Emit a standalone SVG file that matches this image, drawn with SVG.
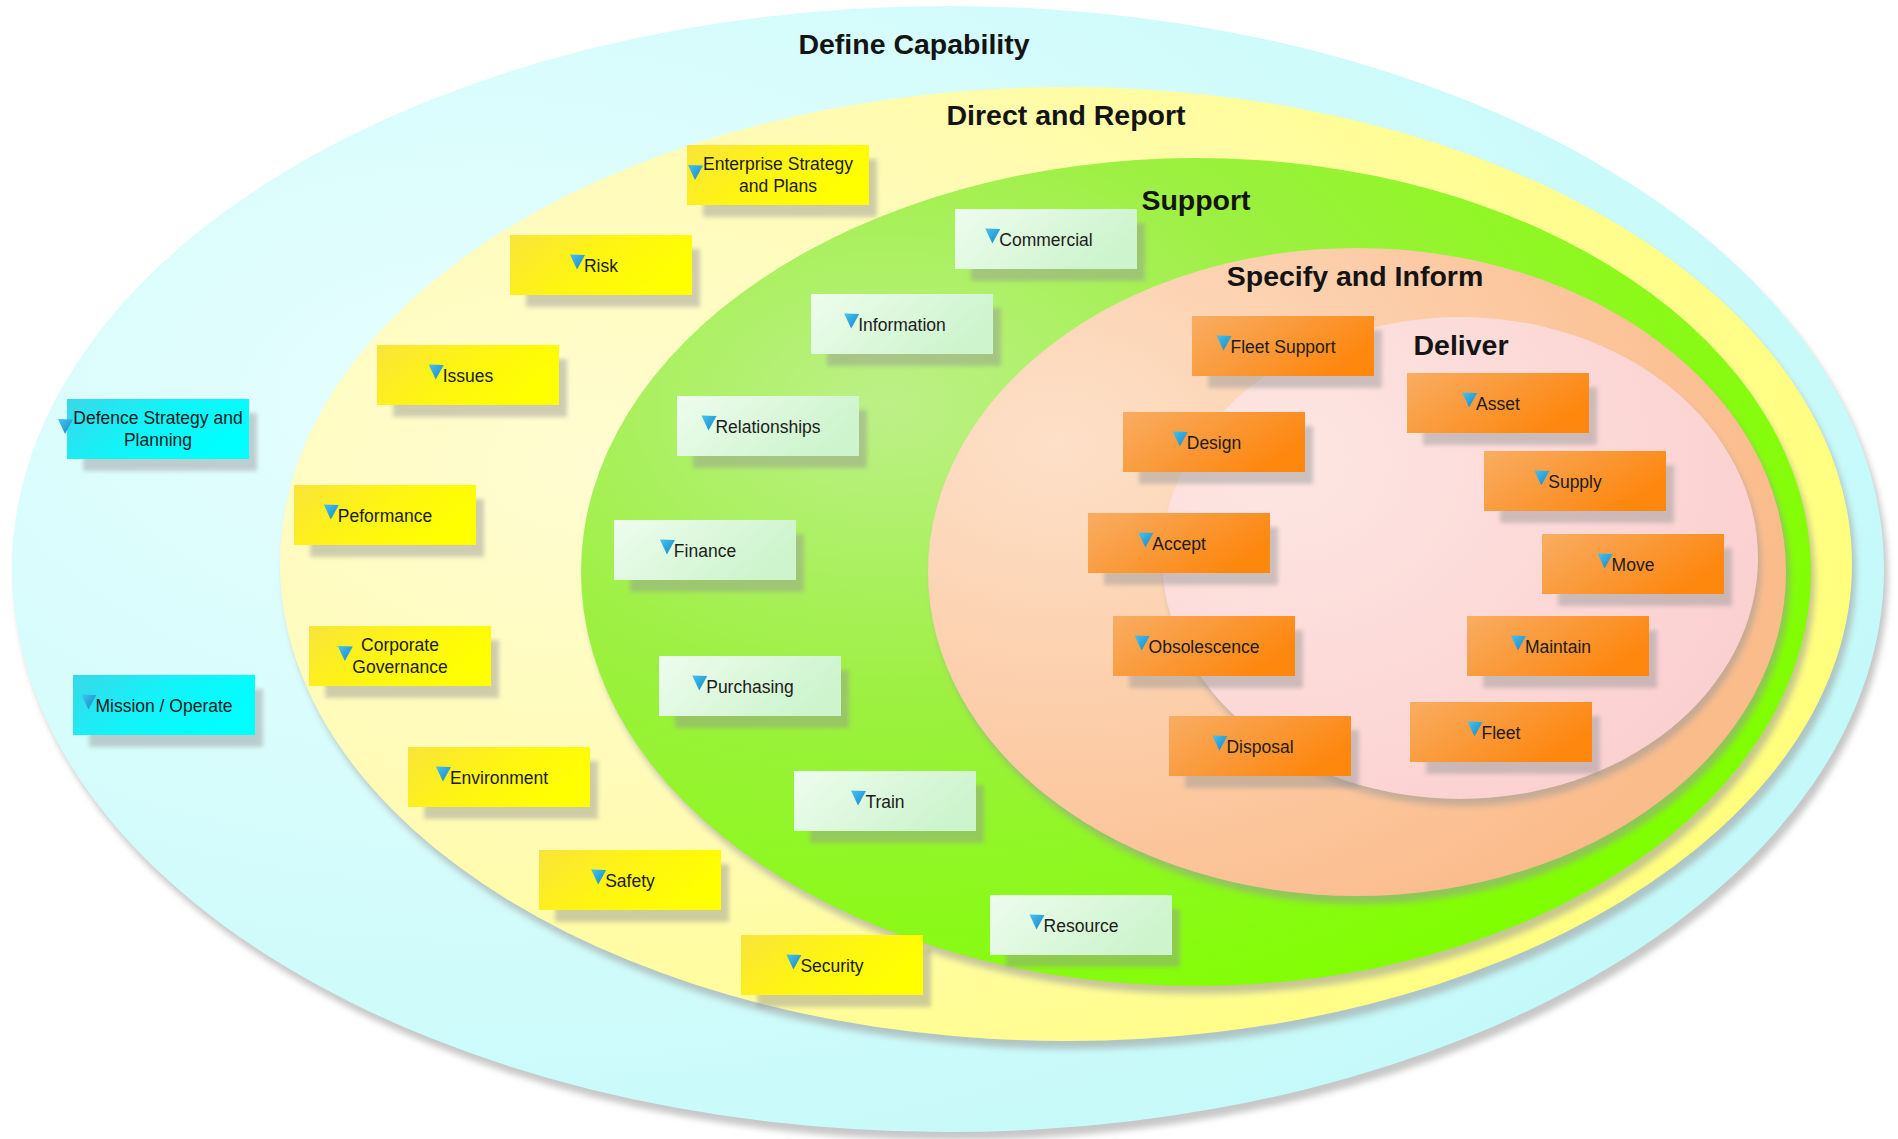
<svg xmlns="http://www.w3.org/2000/svg" xmlns:xlink="http://www.w3.org/1999/xlink" width="1898" height="1139" viewBox="0 0 1898 1139">
  <style>
    .title { font-family: "Liberation Sans", Arial, sans-serif; font-weight: bold; font-size: 28.5px; fill: #141414; text-anchor: middle; }
    .lbl { font-family: "Liberation Sans", Arial, sans-serif; font-size: 17.5px; fill: #1c1c1c; text-anchor: middle; }
    .zsh { fill: #9a9a9a; opacity: 0.55; filter: url(#zoneBlur); }
    .sh { fill: #959595; opacity: 0.45; filter: url(#boxBlur); }
    .cyan .box { fill: url(#gCyan); }
    .yel .box { fill: url(#gYel); }
    .grn .box { fill: url(#gGrn); }
    .org .box { fill: url(#gOrg); }
  </style>
  <defs>
    <filter id="zoneBlur" x="-5%" y="-5%" width="110%" height="110%">
      <feGaussianBlur stdDeviation="3"/>
    </filter>
    <filter id="boxBlur" x="-10%" y="-20%" width="120%" height="140%">
      <feGaussianBlur stdDeviation="2"/>
    </filter>
    <!-- zone fills, lighter toward the upper left -->
    <radialGradient id="zCyan" cx="0.25" cy="0.35" r="0.8">
      <stop offset="0" stop-color="#e6fefe"/>
      <stop offset="1" stop-color="#c4f9f9"/>
    </radialGradient>
    <radialGradient id="zYel" cx="0.2" cy="0.4" r="0.85">
      <stop offset="0" stop-color="#fffcd2"/>
      <stop offset="0.45" stop-color="#fffbb4"/>
      <stop offset="1" stop-color="#ffff78"/>
    </radialGradient>
    <radialGradient id="zGrn" cx="0.25" cy="0.3" r="0.8">
      <stop offset="0" stop-color="#bdf088"/>
      <stop offset="0.45" stop-color="#9cf040"/>
      <stop offset="1" stop-color="#80ff00"/>
    </radialGradient>
    <radialGradient id="zPch" cx="0.15" cy="0.3" r="0.85">
      <stop offset="0" stop-color="#fde0c8"/>
      <stop offset="1" stop-color="#fbbc8c"/>
    </radialGradient>
    <radialGradient id="zPnk" cx="0.2" cy="0.3" r="0.85">
      <stop offset="0" stop-color="#fde6e2"/>
      <stop offset="1" stop-color="#fbd0d0"/>
    </radialGradient>
    <!-- box fills -->
    <linearGradient id="gCyan" x1="0" y1="0" x2="1" y2="0.4">
      <stop offset="0" stop-color="#38d8e8"/>
      <stop offset="0.5" stop-color="#14f2f8"/>
      <stop offset="1" stop-color="#00ffff"/>
    </linearGradient>
    <linearGradient id="gYel" x1="0" y1="0" x2="1" y2="0.4">
      <stop offset="0" stop-color="#f9e43a"/>
      <stop offset="0.5" stop-color="#fef414"/>
      <stop offset="1" stop-color="#ffff00"/>
    </linearGradient>
    <linearGradient id="gGrn" x1="0" y1="0" x2="1" y2="0.4">
      <stop offset="0" stop-color="#eefcee"/>
      <stop offset="1" stop-color="#cdf4cd"/>
    </linearGradient>
    <linearGradient id="gOrg" x1="0" y1="0" x2="1" y2="0.5">
      <stop offset="0" stop-color="#f9ad63"/>
      <stop offset="0.55" stop-color="#fa9836"/>
      <stop offset="1" stop-color="#fe870e"/>
    </linearGradient>
    <linearGradient id="gTri" x1="0" y1="0" x2="1" y2="1">
      <stop offset="0" stop-color="#45c4f2"/>
      <stop offset="1" stop-color="#1686c4"/>
    </linearGradient>
    <path id="tri" d="M0,0 L15,0.5 L7,15 Z" fill="url(#gTri)"/>
  </defs>

  <rect width="1898" height="1139" fill="#ffffff"/>

  <!-- nested capability zones -->
  <g id="zone-define-capability">
    <ellipse class="zsh" cx="952" cy="577" rx="936" ry="563"/>
    <ellipse cx="948" cy="569" rx="936" ry="563" fill="url(#zCyan)"/>
    <text class="title" x="914" y="54">Define Capability</text>
  </g>
  <g id="zone-direct-report">
    <ellipse class="zsh" cx="1070" cy="572" rx="786" ry="477"/>
    <ellipse cx="1066" cy="564" rx="786" ry="477" fill="url(#zYel)"/>
    <text class="title" x="1066" y="125">Direct and Report</text>
  </g>
  <g id="zone-support">
    <ellipse class="zsh" cx="1200" cy="580" rx="615" ry="414"/>
    <ellipse cx="1196" cy="572" rx="615" ry="414" fill="url(#zGrn)"/>
    <text class="title" x="1196" y="210">Support</text>
  </g>
  <g id="zone-specify-inform">
    <ellipse class="zsh" cx="1361" cy="580" rx="429" ry="324"/>
    <ellipse cx="1357" cy="572" rx="429" ry="324" fill="url(#zPch)"/>
    <text class="title" x="1355" y="286">Specify and Inform</text>
  </g>
  <g id="zone-deliver">
    <ellipse class="zsh" cx="1463" cy="565" rx="298" ry="241"/>
    <ellipse cx="1460" cy="558" rx="298" ry="241" fill="url(#zPnk)"/>
    <text class="title" x="1461" y="355">Deliver</text>
  </g>

  <!-- Define Capability -->
  <g id="node-defence-strategy" class="node cyan">
    <rect class="sh" x="83" y="413" width="174" height="58"/>
    <rect class="box" x="67" y="399" width="182" height="60"/>
    <use xlink:href="#tri" x="58" y="419"/>
    <text class="lbl" x="158" y="424">Defence Strategy and</text>
    <text class="lbl" x="158" y="446">Planning</text>
  </g>
  <g id="node-mission" class="node cyan">
    <rect class="sh" x="89" y="689" width="174" height="58"/>
    <rect class="box" x="73" y="675" width="182" height="60"/>
    <use xlink:href="#tri" x="81.4" y="694.5"/>
    <text class="lbl" x="164" y="711.5">Mission / Operate</text>
  </g>

  <!-- Direct and Report -->
  <g id="node-enterprise-strategy" class="node yel">
    <rect class="sh" x="703" y="159" width="174" height="58"/>
    <rect class="box" x="687" y="145" width="182" height="60"/>
    <use xlink:href="#tri" x="688" y="165"/>
    <text class="lbl" x="778" y="170">Enterprise Strategy</text>
    <text class="lbl" x="778" y="192">and Plans</text>
  </g>
  <g id="node-risk" class="node yel">
    <rect class="sh" x="526" y="249" width="174" height="58"/>
    <rect class="box" x="510" y="235" width="182" height="60"/>
    <use xlink:href="#tri" x="570" y="254.5"/>
    <text class="lbl" x="601" y="271.5">Risk</text>
  </g>
  <g id="node-issues" class="node yel">
    <rect class="sh" x="393" y="359" width="174" height="58"/>
    <rect class="box" x="377" y="345" width="182" height="60"/>
    <use xlink:href="#tri" x="428.7" y="364.5"/>
    <text class="lbl" x="468" y="381.5">Issues</text>
  </g>
  <g id="node-peformance" class="node yel">
    <rect class="sh" x="310" y="499" width="174" height="58"/>
    <rect class="box" x="294" y="485" width="182" height="60"/>
    <use xlink:href="#tri" x="323.8" y="504.5"/>
    <text class="lbl" x="385" y="521.5">Peformance</text>
  </g>
  <g id="node-corporate-governance" class="node yel">
    <rect class="sh" x="325" y="640" width="174" height="58"/>
    <rect class="box" x="309" y="626" width="182" height="60"/>
    <use xlink:href="#tri" x="337.8" y="646"/>
    <text class="lbl" x="400" y="651">Corporate</text>
    <text class="lbl" x="400" y="673">Governance</text>
  </g>
  <g id="node-environment" class="node yel">
    <rect class="sh" x="424" y="761" width="174" height="58"/>
    <rect class="box" x="408" y="747" width="182" height="60"/>
    <use xlink:href="#tri" x="435.9" y="766.5"/>
    <text class="lbl" x="499" y="783.5">Environment</text>
  </g>
  <g id="node-safety" class="node yel">
    <rect class="sh" x="555" y="864" width="174" height="58"/>
    <rect class="box" x="539" y="850" width="182" height="60"/>
    <use xlink:href="#tri" x="591.2" y="869.5"/>
    <text class="lbl" x="630" y="886.5">Safety</text>
  </g>
  <g id="node-security" class="node yel">
    <rect class="sh" x="757" y="949" width="174" height="58"/>
    <rect class="box" x="741" y="935" width="182" height="60"/>
    <use xlink:href="#tri" x="786.4" y="954.5"/>
    <text class="lbl" x="832" y="971.5">Security</text>
  </g>

  <!-- Support -->
  <g id="node-commercial" class="node grn">
    <rect class="sh" x="971" y="223" width="174" height="58"/>
    <rect class="box" x="955" y="209" width="182" height="60"/>
    <use xlink:href="#tri" x="985.3" y="228.5"/>
    <text class="lbl" x="1046" y="245.5">Commercial</text>
  </g>
  <g id="node-information" class="node grn">
    <rect class="sh" x="827" y="308" width="174" height="58"/>
    <rect class="box" x="811" y="294" width="182" height="60"/>
    <use xlink:href="#tri" x="844.2" y="313.5"/>
    <text class="lbl" x="902" y="330.5">Information</text>
  </g>
  <g id="node-relationships" class="node grn">
    <rect class="sh" x="693" y="410" width="174" height="58"/>
    <rect class="box" x="677" y="396" width="182" height="60"/>
    <use xlink:href="#tri" x="701.5" y="415.5"/>
    <text class="lbl" x="768" y="432.5">Relationships</text>
  </g>
  <g id="node-finance" class="node grn">
    <rect class="sh" x="630" y="534" width="174" height="58"/>
    <rect class="box" x="614" y="520" width="182" height="60"/>
    <use xlink:href="#tri" x="659.9" y="539.5"/>
    <text class="lbl" x="705" y="556.5">Finance</text>
  </g>
  <g id="node-purchasing" class="node grn">
    <rect class="sh" x="675" y="670" width="174" height="58"/>
    <rect class="box" x="659" y="656" width="182" height="60"/>
    <use xlink:href="#tri" x="692.2" y="675.5"/>
    <text class="lbl" x="750" y="692.5">Purchasing</text>
  </g>
  <g id="node-train" class="node grn">
    <rect class="sh" x="810" y="785" width="174" height="58"/>
    <rect class="box" x="794" y="771" width="182" height="60"/>
    <use xlink:href="#tri" x="851" y="790.5"/>
    <text class="lbl" x="885" y="807.5">Train</text>
  </g>
  <g id="node-resource" class="node grn">
    <rect class="sh" x="1006" y="909" width="174" height="58"/>
    <rect class="box" x="990" y="895" width="182" height="60"/>
    <use xlink:href="#tri" x="1029.5" y="914.5"/>
    <text class="lbl" x="1081" y="931.5">Resource</text>
  </g>

  <!-- Specify and Inform / Deliver -->
  <g id="node-fleet-support" class="node org">
    <rect class="sh" x="1208" y="330" width="174" height="58"/>
    <rect class="box" x="1192" y="316" width="182" height="60"/>
    <use xlink:href="#tri" x="1216.5" y="335.5"/>
    <text class="lbl" x="1283" y="352.5">Fleet Support</text>
  </g>
  <g id="node-asset" class="node org">
    <rect class="sh" x="1423" y="387" width="174" height="58"/>
    <rect class="box" x="1407" y="373" width="182" height="60"/>
    <use xlink:href="#tri" x="1462.1" y="392.5"/>
    <text class="lbl" x="1498" y="409.5">Asset</text>
  </g>
  <g id="node-design" class="node org">
    <rect class="sh" x="1139" y="426" width="174" height="58"/>
    <rect class="box" x="1123" y="412" width="182" height="60"/>
    <use xlink:href="#tri" x="1172.8" y="431.5"/>
    <text class="lbl" x="1214" y="448.5">Design</text>
  </g>
  <g id="node-supply" class="node org">
    <rect class="sh" x="1500" y="465" width="174" height="58"/>
    <rect class="box" x="1484" y="451" width="182" height="60"/>
    <use xlink:href="#tri" x="1534.3" y="470.5"/>
    <text class="lbl" x="1575" y="487.5">Supply</text>
  </g>
  <g id="node-accept" class="node org">
    <rect class="sh" x="1104" y="527" width="174" height="58"/>
    <rect class="box" x="1088" y="513" width="182" height="60"/>
    <use xlink:href="#tri" x="1138.3" y="532.5"/>
    <text class="lbl" x="1179" y="549.5">Accept</text>
  </g>
  <g id="node-move" class="node org">
    <rect class="sh" x="1558" y="548" width="174" height="58"/>
    <rect class="box" x="1542" y="534" width="182" height="60"/>
    <use xlink:href="#tri" x="1597.6" y="553.5"/>
    <text class="lbl" x="1633" y="570.5">Move</text>
  </g>
  <g id="node-obsolescence" class="node org">
    <rect class="sh" x="1129" y="630" width="174" height="58"/>
    <rect class="box" x="1113" y="616" width="182" height="60"/>
    <use xlink:href="#tri" x="1134.6" y="635.5"/>
    <text class="lbl" x="1204" y="652.5">Obsolescence</text>
  </g>
  <g id="node-maintain" class="node org">
    <rect class="sh" x="1483" y="630" width="174" height="58"/>
    <rect class="box" x="1467" y="616" width="182" height="60"/>
    <use xlink:href="#tri" x="1510.9" y="635.5"/>
    <text class="lbl" x="1558" y="652.5">Maintain</text>
  </g>
  <g id="node-disposal" class="node org">
    <rect class="sh" x="1185" y="730" width="174" height="58"/>
    <rect class="box" x="1169" y="716" width="182" height="60"/>
    <use xlink:href="#tri" x="1212.4" y="735.5"/>
    <text class="lbl" x="1260" y="752.5">Disposal</text>
  </g>
  <g id="node-fleet" class="node org">
    <rect class="sh" x="1426" y="716" width="174" height="58"/>
    <rect class="box" x="1410" y="702" width="182" height="60"/>
    <use xlink:href="#tri" x="1467.5" y="721.5"/>
    <text class="lbl" x="1501" y="738.5">Fleet</text>
  </g>
</svg>
